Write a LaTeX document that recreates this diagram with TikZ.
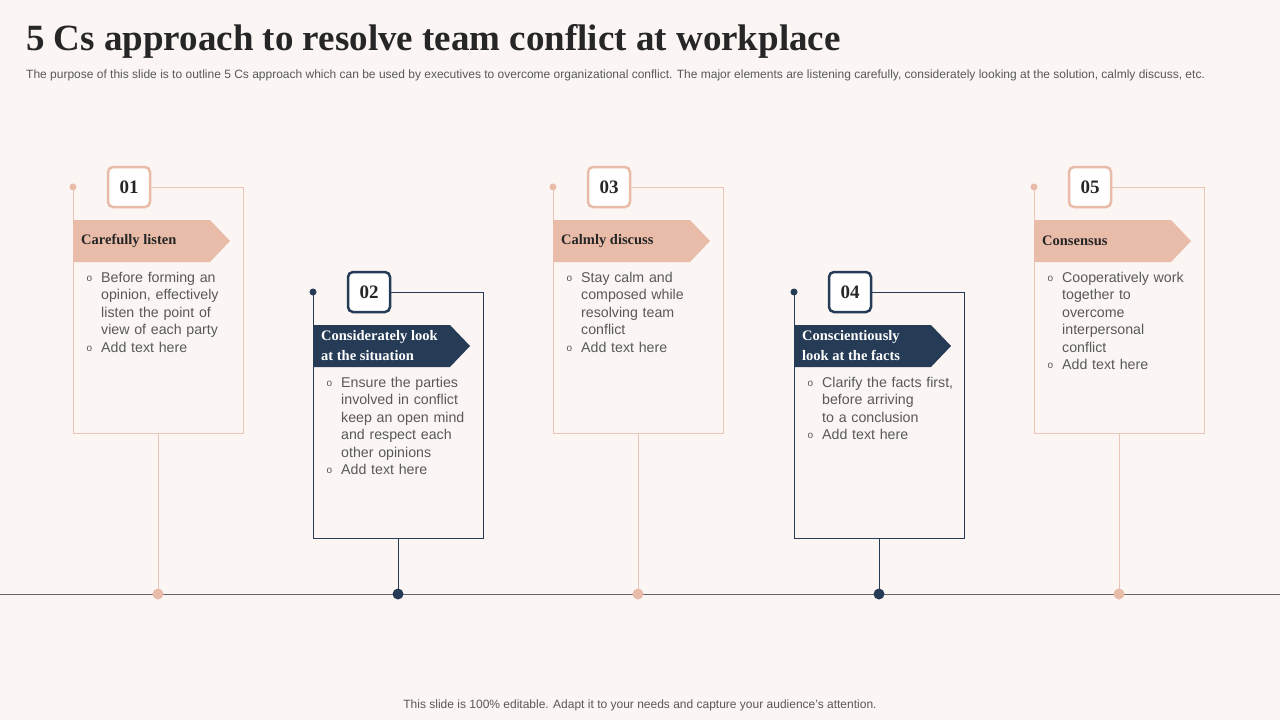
\documentclass[tikz,border=0pt]{standalone}
\usepackage{fontspec}
\setmainfont{Liberation Sans}
\newfontfamily\serifb{Liberation Serif}
\definecolor{bg}{HTML}{FBF5F4}
\definecolor{peach}{HTML}{E9BCA9}
\definecolor{peachl}{HTML}{EBC6B7}
\definecolor{navy}{HTML}{253B56}
\definecolor{txt}{HTML}{595959}
\tikzset{
 numbox/.style={draw=#1,line width=2.5pt,fill=white,rounded corners=5pt,minimum width=42pt,minimum height=40pt,font=\serifb\bfseries\fontsize{19}{19}\selectfont,text=black!85},
 body/.style={anchor=north west,align=left,text width=160pt,font=\fontsize{14.2}{17.5}\selectfont,text=txt,inner sep=0pt},
 btitle/.style={anchor=west,align=left,font=\serifb\bfseries\fontsize{14.5}{20}\selectfont,inner sep=0pt},
}
\newcommand{\bul}{\makebox[0pt][r]{\raisebox{1pt}{\fontsize{10}{10}\selectfont o}\hspace{9pt}}}
\begin{document}
\begin{tikzpicture}[x=1pt,y=-1pt]
\fill[bg] (0,0) rectangle (1280,720);
\useasboundingbox (0,0) rectangle (1280,720);
\node[anchor=west,inner sep=0pt,font=\serifb\bfseries\fontsize{37}{37}\selectfont,text=black!85] (title) at (26,41) {5 Cs approach to resolve team conflict at workplace};
\node[anchor=west,inner sep=0pt,font=\fontsize{12}{13}\selectfont,text=txt] (sub) at (26,75) {The purpose of this slide is to outline 5 Cs approach which can be used by executives to overcome organizational conflict. The major elements are listening carefully, considerately looking at the solution, calmly discuss, etc.};
\node[inner sep=0pt,font=\fontsize{12}{13}\selectfont,text=txt] (foot) at (640,705) {This slide is 100\% editable. Adapt it to your needs and capture your audience's attention.};
\coordinate (tl0) at (0,594);
\coordinate (tl1) at (1280,594);
\draw[gray!80!black,line width=0.8pt] (tl0) -- (tl1);
\newcommand{\card}[9]{%
 \coordinate (#8a) at (#1,#2);
 \coordinate (#8b) at (#1,#2+246);
 \coordinate (#8c) at (#1+170,#2+246);
 \coordinate (#8d) at (#1+170,#2);
 \coordinate (#8s) at (#1+85,#2+246);
 \coordinate (#8e) at (#1+85,594);
 \draw[#4,line width=1pt] (#8a) -- (#8b) -- (#8c) -- (#8d) -- (#1+65,#2);
 \draw[#4,line width=1pt] (#8s) -- (#8e);
 \fill[#3] (#8a) circle (3.5pt);
 \fill[#3] (#8e) circle (5.5pt);
 \node[numbox=#3] (#8n) at (#1+56,#2) {#5};
 \fill[#3] (#1,#2+33) -- (#1+137,#2+33) -- (#1+157,#2+54) -- (#1+137,#2+75) -- (#1,#2+75) -- cycle;
 \node[btitle,text=#9] (#8t) at (#1+8,#2+54) {#6};
 \node[body] (#8x) at (#1+28,#2+85) {#7};
}
\card{73}{187}{peach}{peachl}{01}{Carefully listen}{\bul Before forming an\\opinion, effectively\\listen the point of\\view of each party\\\bul Add text here}{c1}{black!85}
\card{313}{292}{navy}{navy}{02}{Considerately look\\at the situation}{\bul Ensure the parties\\involved in conflict\\keep an open mind\\and respect each\\other opinions\\\bul Add text here}{c2}{white}
\card{553}{187}{peach}{peachl}{03}{Calmly discuss}{\bul Stay calm and\\composed while\\resolving team\\conflict\\\bul Add text here}{c3}{black!85}
\card{794}{292}{navy}{navy}{04}{Conscientiously\\look at the facts}{\bul Clarify the facts first,\\before arriving\\to a conclusion\\\bul Add text here}{c4}{white}
\card{1034}{187}{peach}{peachl}{05}{Consensus}{\bul Cooperatively work\\together to\\overcome\\interpersonal\\conflict\\\bul Add text here}{c5}{black!85}
\end{tikzpicture}
\end{document}
